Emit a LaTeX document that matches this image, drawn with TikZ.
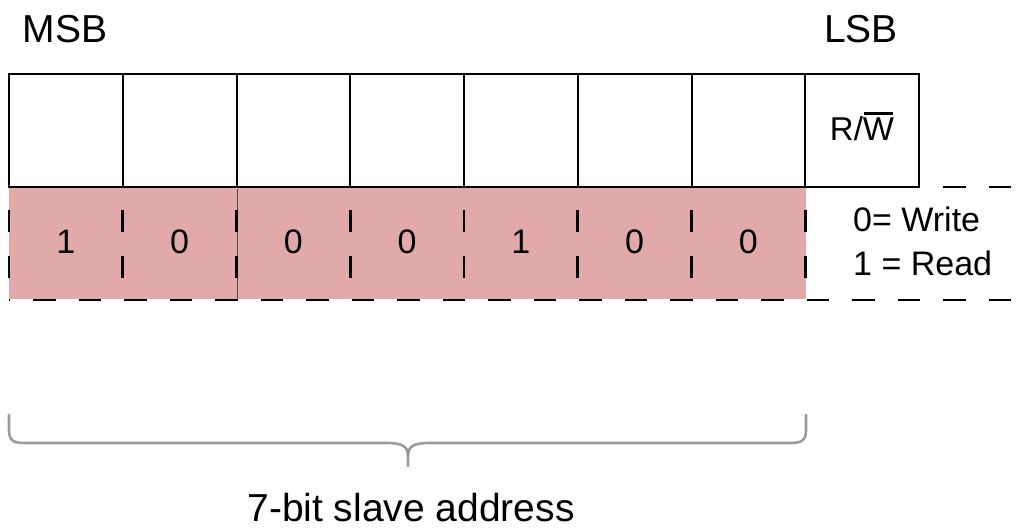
\documentclass[tikz,border=0pt]{standalone}
\usepackage{fontspec}
\setmainfont{Liberation Sans}
\definecolor{bitpink}{RGB}{225,169,169}
\definecolor{bracegray}{RGB}{155,155,155}
\newcommand{\barW}{\makebox[0pt][l]{\hspace{0.02em}\rule[0.8em]{0.9em}{0.085em}}W}
\begin{document}
\begin{tikzpicture}[x=1pt,y=-1pt,
  bitcell/.style={draw,line width=2pt,minimum width=113.75pt,minimum height=113pt,inner sep=0pt,outer sep=0pt,anchor=north west},
  valcell/.style={minimum width=113.75pt,minimum height=112pt,inner sep=0pt,outer sep=0pt,anchor=north west},
  bigtext/.style={font=\fontsize{39}{45}\selectfont,inner sep=0pt,anchor=base},
  medtext/.style={font=\fontsize{34}{40}\selectfont,inner sep=0pt},
  rwtext/.style={font=\fontsize{33}{40}\selectfont,inner sep=0pt},
  hdash/.style={line width=2.4pt,dash pattern=on 22.5pt off 23pt,dash phase=21.5pt},
  vdash/.style={line width=2.6pt,dash pattern=on 22pt off 24pt,dash phase=23pt},
  bracestroke/.style={draw=bracegray,line width=2.6pt,line cap=round},
]
\useasboundingbox (0,0) rectangle (1025,529);

% pink value row
\fill[bitpink] (9,187) rectangle (806,299);
\draw[line width=0.6pt,black!70] (237,189) -- (237,299);

% dashed grid of the value row
\coordinate (dl0) at (9,187);
\coordinate (dr0) at (1022,187);
\coordinate (dl1) at (9,300);
\coordinate (dr1) at (1022,300);
\draw[hdash] (dl0) -- (dr0);
\draw[hdash] (dl1) -- (dr1);
\foreach \k in {0,...,7}{
  \coordinate (vt\k) at ({9+113.75*\k},187);
  \coordinate (vb\k) at ({9+113.75*\k},300);
  \draw[vdash] (vt\k) -- (vb\k);
}

% top row of bit cells
\foreach \k in {0,...,7}{
  \node[bitcell] (b\k) at ({9+113.75*\k},74) {};
}
\node[rwtext,anchor=base] (rw) at (862,141) {R/\barW};

% values
\foreach \v [count=\k from 0] in {1,0,0,0,1,0,0}{
  \node[valcell] (v\k) at ({9+113.75*\k},187) {};
  \node[medtext,anchor=base] (t\k) at ({9+113.75*(\k+0.5)},254) {\v};
}

% MSB / LSB
\node[bigtext] (msb) at (65,43) {MSB};
\node[bigtext] (lsb) at (861,43) {LSB};

% legend
\node[medtext,anchor=base west] (l0) at (853,232) {0= Write};
\node[medtext,anchor=base west] (l1) at (853,276) {1 = Read};

% brace
\coordinate (brL) at (9,415);
\coordinate (brR) at (806,415);
\coordinate (brT) at (408,466);
\draw[bracestroke] (brL) -- (9,430) .. controls (9,440) and (13,443) .. (24,443)
  -- (386,443) .. controls (402,443) and (408,446) .. (408,456) -- (brT);
\draw[bracestroke] (brR) -- (806,430) .. controls (806,440) and (802,443) .. (791,443)
  -- (430,443) .. controls (414,443) and (408,446) .. (408,456);

\node[bigtext] (addr) at (411,521) {7-bit slave address};
\end{tikzpicture}
\end{document}
